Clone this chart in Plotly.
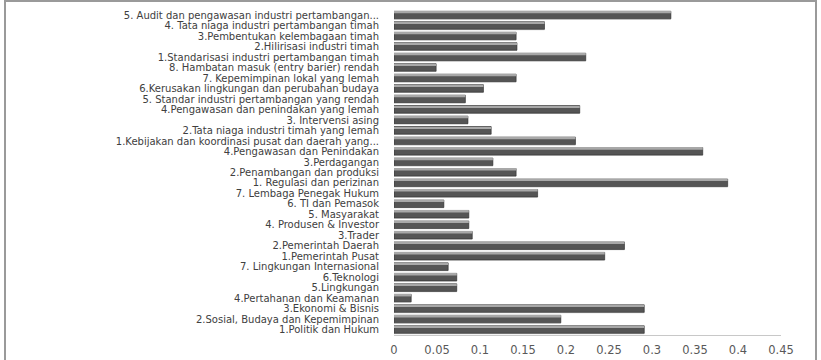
import plotly.graph_objects as go

categories = [
    "5. Audit dan pengawasan industri pertambangan...",
    "4. Tata niaga industri pertambangan timah",
    "3.Pembentukan kelembagaan timah",
    "2.Hilirisasi industri timah",
    "1.Standarisasi industri pertambangan timah",
    "8. Hambatan masuk (entry barier) rendah",
    "7. Kepemimpinan lokal yang lemah",
    "6.Kerusakan lingkungan dan perubahan budaya",
    "5. Standar industri pertambangan yang rendah",
    "4.Pengawasan dan penindakan yang lemah",
    "3. Intervensi asing",
    "2.Tata niaga industri timah yang lemah",
    "1.Kebijakan dan koordinasi pusat dan daerah yang...",
    "4.Pengawasan dan Penindakan",
    "3.Perdagangan",
    "2.Penambangan dan produksi",
    "1. Regulasi dan perizinan",
    "7. Lembaga Penegak Hukum",
    "6. TI dan Pemasok",
    "5. Masyarakat",
    "4. Produsen & Investor",
    "3.Trader",
    "2.Pemerintah Daerah",
    "1.Pemerintah Pusat",
    "7. Lingkungan Internasional",
    "6.Teknologi",
    "5.Lingkungan",
    "4.Pertahanan dan Keamanan",
    "3.Ekonomi & Bisnis",
    "2.Sosial, Budaya dan Kepemimpinan",
    "1.Politik dan Hukum",
]

values = [
    0.322, 0.175, 0.142, 0.143, 0.223, 0.049, 0.142, 0.104, 0.083, 0.216,
    0.086, 0.113, 0.211, 0.359, 0.115, 0.142, 0.388, 0.167, 0.058, 0.087,
    0.087, 0.091, 0.268, 0.245, 0.063, 0.073, 0.073, 0.020, 0.291, 0.194,
    0.291,
]

x_ticks = [0, 0.05, 0.1, 0.15, 0.2, 0.25, 0.3, 0.35, 0.4, 0.45]
x_tick_labels = ["0", "0.05", "0.1", "0.15", "0.2", "0.25", "0.3", "0.35", "0.4", "0.45"]

fig = go.Figure()
# shadow
fig.add_trace(go.Bar(
    y=categories, x=values, orientation="h",
    width=0.72, offset=-0.3,
    marker=dict(color="#d4d4d4", line=dict(width=0)),
    hoverinfo="skip", showlegend=False,
))
# main body
fig.add_trace(go.Bar(
    y=categories, x=values, orientation="h",
    width=0.72, offset=-0.38,
    marker=dict(color="#555555", line=dict(color="#2e2e2e", width=0.6)),
    showlegend=False,
))
# highlight
fig.add_trace(go.Bar(
    y=categories, x=values, orientation="h",
    width=0.16, offset=-0.34,
    marker=dict(color="#a8a8a8", line=dict(width=0)),
    hoverinfo="skip", showlegend=False,
))

fig.update_layout(
    width=821, height=360,
    margin=dict(l=394, r=40, t=10, b=25),
    paper_bgcolor="white", plot_bgcolor="white",
    barmode="overlay",
    font=dict(family="DejaVu Sans", color="#404040"),
    xaxis=dict(
        range=[0, 0.45], tickvals=x_ticks, ticktext=x_tick_labels,
        showgrid=False, zeroline=False, showline=True,
        linecolor="#c8c8c8", linewidth=1,
        tickfont=dict(size=11.5, color="#595959"),
        ticks="", ticklabelstandoff=4, automargin=False,
    ),
    yaxis=dict(
        autorange="reversed", showgrid=False, zeroline=False,
        showline=False, ticks="",
        tickmode="array", tickvals=categories, ticktext=categories,
        tickfont=dict(size=10, color="#404040"),
        ticklabelstandoff=14, automargin=False,
    ),
    shapes=[dict(
        type="rect", xref="paper", yref="paper",
        x0=(5 - 394) / 387, x1=(816 - 394) / 387,
        y0=(325 - 365) / 325, y1=(325 + 9) / 325,
        line=dict(color="#9a9a9a", width=2), fillcolor="rgba(0,0,0,0)",
        layer="below",
    )],
)

fig.write_html("out.html")
